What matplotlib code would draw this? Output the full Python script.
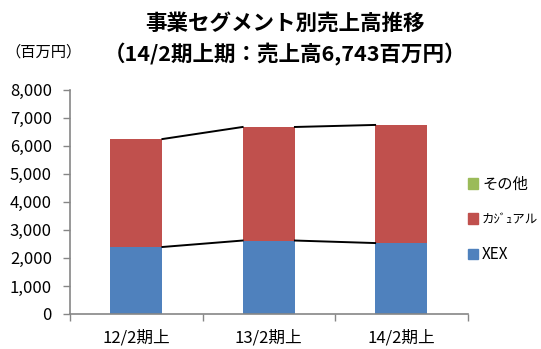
import numpy as np
import matplotlib
matplotlib.use("Agg")
import matplotlib.pyplot as plt
import matplotlib.patches as mpatches

plt.rcParams['font.family'] = ['Noto Sans CJK JP', 'DejaVu Sans']

# data (百万円)
periods = ['12/2期上', '13/2期上', '14/2期上']
xex = [2390, 2620, 2530]
casual = [3842, 4042, 4205]
other = [8, 8, 8]

series_names = ['XEX', 'カｼﾞｭアル', 'その他']
colors = ['#4F81BD', '#C0504D', '#9BBB59']

fig = plt.figure(figsize=(5.41, 3.49), dpi=100)
ax = fig.add_axes([0.1294, 0.1003, 0.7348, 0.6427])

x = np.arange(len(periods))
w = 0.395
bottom = np.zeros(len(periods))
tops = []
for vals, c in zip([xex, casual, other], colors):
    ax.bar(x, vals, w, bottom=bottom, color=c, zorder=2)
    bottom = bottom + np.array(vals)
    tops.append(bottom.copy())

# series lines between bars
for level in [tops[0], tops[2]]:
    for i in range(len(periods) - 1):
        ax.plot([x[i] + w / 2, x[i + 1] - w / 2], [level[i], level[i + 1]],
                color='black', lw=1.4, zorder=3)

ax.set_xlim(-0.5, len(periods) - 0.5)
ax.set_ylim(0, 8000)
ax.set_yticks(np.arange(0, 8001, 1000))
ax.set_yticklabels([f'{v:,}' for v in range(0, 8001, 1000)], fontsize=12)
ax.set_xticks(x)
ax.set_xticklabels(periods, fontsize=12)
ax.set_xticks(np.arange(-0.5, len(periods)), minor=True)
ax.tick_params(axis='x', which='major', length=0, pad=11)
ax.tick_params(axis='x', which='minor', length=5, color='#868686', width=1)
ax.tick_params(axis='y', length=5, color='#868686', width=1, pad=8)

for s in ['top', 'right']:
    ax.spines[s].set_visible(False)
for s in ['left', 'bottom']:
    ax.spines[s].set_color('#868686')
    ax.spines[s].set_linewidth(1.2)

handles = [mpatches.Patch(color=colors[i], label=series_names[i]) for i in [2, 1, 0]]
leg = ax.legend(handles=handles, loc='center left', bbox_to_anchor=(1.0, 0.42),
                frameon=False, fontsize=11, handlelength=0.7, handleheight=0.7,
                handletextpad=0.25, labelspacing=1.3, borderaxespad=0, borderpad=0)
leg.get_texts()[1].set_fontsize(9)

fig.text(0.527, 0.935, '事業セグメント別売上高推移', ha='center', va='center',
         fontsize=15.5, fontweight='bold')
fig.text(0.527, 0.845, '（14/2期上期：売上高6,743百万円）', ha='center', va='center',
         fontsize=15.5, fontweight='bold')
fig.text(0.01, 0.85, '（百万円）', ha='left', va='center', fontsize=11)

fig.savefig('out.png', dpi=100)
